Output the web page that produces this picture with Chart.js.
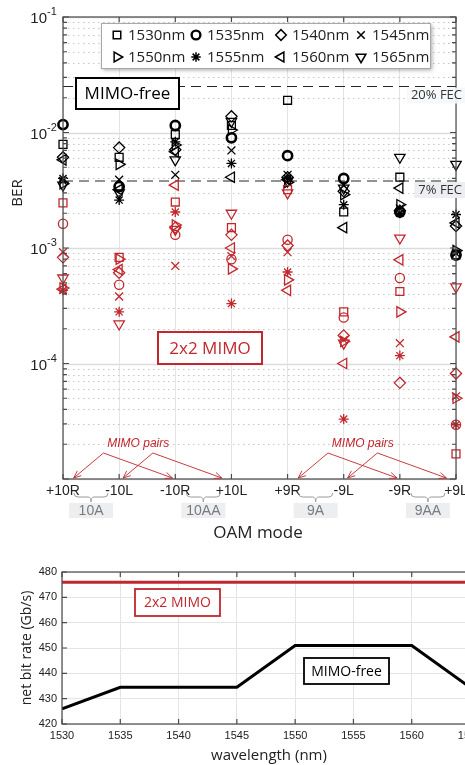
<!DOCTYPE html>
<html>
<head>
<meta charset="utf-8">
<script src="https://cdn.jsdelivr.net/npm/chart.js@4.4.1/dist/chart.umd.min.js"></script>
<style>
  html, body { margin: 0; padding: 0; background: #fff; overflow: hidden; width: 465px; height: 765px; }
  #berChart { position: absolute; left: 0; top: 0; }
  #rateChart { position: absolute; left: 0; top: 545px; }
</style>
</head>
<body>
<canvas id="berChart" width="480" height="545"></canvas>
<canvas id="rateChart" width="490" height="220"></canvas>
<script>
Chart.defaults.font.family = '"Liberation Sans", Arial, sans-serif';
Chart.defaults.color = '#222';

const RED = '#c1272d';
const SOFT = '"Open Sans", "Noto Sans", sans-serif';

// --- BER per OAM mode ---
const categories = ['+10R', '-10L', '-10R', '+10L', '+9R', '-9L', '-9R', '+9L'];
const wavelengths = [1530, 1535, 1540, 1545, 1550, 1555, 1560, 1565];

// MIMO-free (black)
const free1530 = [7.9e-3, 6.1e-3, 9.6e-3, 1.15e-2, 1.9e-2, 2.05e-3, 4.1e-3, 8.7e-4];
const free1535 = [1.17e-2, 3.4e-3, 1.15e-2, 9.0e-3, 6.3e-3, 4.0e-3, 2.05e-3, 8.7e-4];
const free1540 = [6.1e-3, 7.4e-3, 7.1e-3, 1.38e-2, 4.1e-3, 3.1e-3, 2.1e-3, 1.55e-3];
const free1545 = [3.8e-3, 3.9e-3, 4.3e-3, 7.0e-3, 4.3e-3, 3.5e-3, 2.2e-3, 9.0e-4];
const free1550 = [3.6e-3, 5.3e-3, 7.8e-3, 1.05e-2, 3.7e-3, 2.9e-3, 2.37e-3, 9.5e-4];
const free1555 = [4.0e-3, 2.6e-3, 8.3e-3, 5.4e-3, 4.0e-3, 2.37e-3, 2.0e-3, 1.95e-3];
const free1560 = [5.8e-3, 3.2e-3, 6.8e-3, 4.1e-3, 3.9e-3, 1.5e-3, 3.3e-3, 1.65e-3];
const free1565 = [3.5e-3, 3.0e-3, 5.8e-3, 1.25e-2, 3.8e-3, 3.3e-3, 6.1e-3, 5.3e-3];

// 2x2 MIMO (red)
const mimo1530 = [2.46e-3, 8.3e-4, 2.5e-3, 1.5e-3, 3.2e-3, 2.8e-4, 4.2e-4, 1.65e-5];
const mimo1535 = [1.62e-3, 4.8e-4, 1.3e-3, 8.0e-4, 1.18e-3, 2.5e-4, 5.5e-4, 2.95e-5];
const mimo1540 = [8.3e-4, 6.1e-4, 1.5e-3, 1.3e-3, 1.05e-3, 1.75e-4, 6.8e-5, 8.2e-5];
const mimo1545 = [9.2e-4, 3.8e-4, 7.0e-4, 8.5e-4, 9.2e-4, 1.6e-4, 1.5e-4, 5.2e-5];
const mimo1550 = [4.5e-4, 8.0e-4, 1.58e-3, 6.6e-4, 5.3e-4, 1.55e-4, 2.8e-4, 5.0e-5];
const mimo1555 = [4.3e-4, 2.8e-4, 2.05e-3, 3.3e-4, 6.2e-4, 3.3e-5, 1.17e-4, 2.95e-5];
const mimo1560 = [4.4e-4, 6.5e-4, 3.5e-3, 1.0e-3, 4.3e-4, 1.0e-4, 7.9e-4, 1.7e-4];
const mimo1565 = [5.5e-4, 2.2e-4, 1.45e-3, 2.0e-3, 3.0e-3, 1.5e-4, 1.22e-3, 4.6e-4];

const freeBER = [free1530, free1535, free1540, free1545, free1550, free1555, free1560, free1565];
const mimoBER = [mimo1530, mimo1535, mimo1540, mimo1545, mimo1550, mimo1555, mimo1560, mimo1565];

const fecLimits = [2.5e-2, 3.8e-3];
const fecNames = ['20% FEC', '7% FEC'];
const berDecades = [-5, -4, -3, -2, -1];
const berLabelled = [-4, -3, -2, -1];
const pairGroups = ['10A', '10AA', '9A', '9AA'];

// --- net bit rate ---
const rateWl = [1530, 1535, 1540, 1545, 1550, 1555, 1560, 1565];
const rateMimo = [476, 476, 476, 476, 476, 476, 476, 476];
const rateFree = [426, 434.5, 434.5, 434.5, 451, 451, 451, 434.5];

// marker look per wavelength
const markers = [
  { style: 'rect', rot: 0, r: 5.6 },
  { style: 'circle', rot: 0, r: 4.6 },
  { style: 'rectRot', rot: 0, r: 5.6 },
  { style: 'crossRot', rot: 0, r: 5.6 },
  { style: 'triangle', rot: 90, r: 6 },
  { style: 'star', rot: 0, r: 5 },
  { style: 'triangle', rot: -90, r: 6 },
  { style: 'triangle', rot: 180, r: 6 }
];

const berSets = [];
wavelengths.forEach((wl, k) => {
  const m = markers[k];
  [[freeBER[k], '#000', k === 1 ? 2.6 : 1.3], [mimoBER[k], RED, 1.3]].forEach(([vals, col, lw]) => {
    berSets.push({
      label: wl + 'nm',
      data: vals.map((v, i) => ({ x: i, y: v })),
      showLine: false,
      clip: false,
      pointStyle: m.style,
      rotation: m.rot,
      pointRadius: m.r,
      pointBorderWidth: lw,
      pointBorderColor: col,
      pointBackgroundColor: 'rgba(0,0,0,0)'
    });
  });
});

function textBox(ctx, x, y, w, h, color, lw, text, font) {
  ctx.save();
  ctx.fillStyle = '#fff';
  ctx.fillRect(x, y, w, h);
  ctx.lineWidth = lw;
  ctx.strokeStyle = color;
  ctx.strokeRect(x, y, w, h);
  ctx.fillStyle = color;
  ctx.font = font;
  ctx.textAlign = 'center';
  ctx.textBaseline = 'middle';
  ctx.fillText(text, x + w / 2, y + h / 2 + 1);
  ctx.restore();
}

// box round the plot + inward ticks (matlab look)
function drawFrame(chart, yLen) {
  const { ctx, chartArea: ca, scales: { x, y } } = chart;
  ctx.save();
  ctx.strokeStyle = '#4a4a4a';
  ctx.lineWidth = 1.2;
  ctx.beginPath();
  x.ticks.forEach(t => {
    const px = x.getPixelForValue(t.value);
    ctx.moveTo(px, ca.bottom); ctx.lineTo(px, ca.bottom - 5);
    ctx.moveTo(px, ca.top); ctx.lineTo(px, ca.top + 5);
  });
  y.ticks.forEach(t => {
    const py = y.getPixelForValue(t.value);
    const l = yLen(t);
    ctx.moveTo(ca.left, py); ctx.lineTo(ca.left + l, py);
    ctx.moveTo(ca.right, py); ctx.lineTo(ca.right - l, py);
  });
  ctx.stroke();
  ctx.strokeRect(ca.left, ca.top, ca.width, ca.height);
  ctx.restore();
}

function arrow(ctx, x0, y0, x1, y1) {
  const a = Math.atan2(y1 - y0, x1 - x0);
  ctx.moveTo(x0, y0); ctx.lineTo(x1, y1);
  ctx.moveTo(x1 - 8 * Math.cos(a - 0.4), y1 - 8 * Math.sin(a - 0.4));
  ctx.lineTo(x1, y1);
  ctx.lineTo(x1 - 8 * Math.cos(a + 0.4), y1 - 8 * Math.sin(a + 0.4));
}

const legendCols = [16, 95, 180, 260];

const berDeco = {
  id: 'berDeco',
  beforeDatasetsDraw(chart) {
    const { ctx, chartArea: ca, scales: { y } } = chart;
    ctx.save();
    y.ticks.forEach(t => {
      const py = Math.round(y.getPixelForValue(t.value)) + 0.5;
      ctx.beginPath();
      if (t.major) { ctx.setLineDash([]); ctx.strokeStyle = '#dcdcdc'; ctx.lineWidth = 1.5; }
      else { ctx.setLineDash([1.5, 3.5]); ctx.strokeStyle = '#c6c6c6'; ctx.lineWidth = 1; }
      ctx.moveTo(ca.left, py); ctx.lineTo(ca.right, py);
      ctx.stroke();
    });
    ctx.setLineDash([10, 6]);
    ctx.strokeStyle = '#262626';
    ctx.lineWidth = 1.1;
    fecLimits.forEach(v => {
      const py = y.getPixelForValue(v);
      ctx.beginPath(); ctx.moveTo(ca.left, py); ctx.lineTo(ca.right, py); ctx.stroke();
    });
    ctx.restore();
  },
  afterDatasetsDraw(chart) {
    const { ctx, chartArea: ca, scales: { x, y } } = chart;
    drawFrame(chart, t => (t.major ? 6 : 4));

    // FEC labels
    ctx.save();
    ctx.font = '13px ' + SOFT;
    ctx.textAlign = 'right';
    ctx.textBaseline = 'middle';
    fecLimits.forEach((v, i) => {
      const py = y.getPixelForValue(v) + 9;
      const w = ctx.measureText(fecNames[i]).width;
      ctx.fillStyle = i === 1 ? '#eceef1' : 'rgba(246,247,248,0.9)';
      ctx.fillRect(ca.right + 6 - w - 4, py - 8, w + 8, 16);
      ctx.fillStyle = '#333';
      ctx.fillText(fecNames[i], ca.right + 6, py);
    });
    ctx.restore();

    textBox(ctx, ca.left + 13, ca.top + 61, 103, 31, '#000', 2, 'MIMO-free', '17px ' + SOFT);
    textBox(ctx, ca.left + 95, ca.top + 315, 104, 32, RED, 2, '2x2 MIMO', '17px ' + SOFT);

    // MIMO pairs arrows
    ctx.save();
    ctx.strokeStyle = RED;
    ctx.fillStyle = RED;
    ctx.lineWidth = 0.9;
    ctx.font = 'italic 12px "Liberation Sans", Arial, sans-serif';
    ctx.textAlign = 'center';
    ctx.textBaseline = 'middle';
    [0, 4].forEach(b => {
      const top = ca.bottom - 26, tip = ca.bottom - 1;
      ctx.beginPath();
      arrow(ctx, x.getPixelForValue(b + 0.72), top, x.getPixelForValue(b + 0.19), tip);
      arrow(ctx, x.getPixelForValue(b + 0.72), top, x.getPixelForValue(b + 1.95), tip);
      arrow(ctx, x.getPixelForValue(b + 1.6), top, x.getPixelForValue(b + 1.07), tip);
      arrow(ctx, x.getPixelForValue(b + 1.6), top, x.getPixelForValue(b + 2.83), tip);
      ctx.stroke();
      ctx.fillText('MIMO pairs', x.getPixelForValue(b + 1.34), ca.bottom - 35);
    });
    ctx.restore();

    // legend
    const lx = ca.left + 38, ly = ca.top + 6, lw = 329, lh = 45;
    ctx.save();
    ctx.shadowColor = 'rgba(0,0,0,0.35)';
    ctx.shadowBlur = 4;
    ctx.shadowOffsetX = 2;
    ctx.shadowOffsetY = 2;
    ctx.fillStyle = '#fff';
    ctx.fillRect(lx, ly, lw, lh);
    ctx.restore();
    ctx.save();
    ctx.strokeStyle = '#a8a8a8';
    ctx.lineWidth = 1;
    ctx.strokeRect(lx + 0.5, ly + 0.5, lw, lh);
    ctx.font = '15px ' + SOFT;
    ctx.textBaseline = 'middle';
    ctx.textAlign = 'left';
    wavelengths.forEach((wl, k) => {
      const m = markers[k];
      const mx = lx + legendCols[k % 4], my = ly + (k < 4 ? 12 : 34);
      ctx.strokeStyle = '#000';
      ctx.fillStyle = '#fff';
      ctx.lineWidth = k === 1 ? 2.4 : 1.5;
      Chart.helpers.drawPoint(ctx, { pointStyle: m.style, rotation: m.rot, radius: m.r * 0.95, borderWidth: ctx.lineWidth }, mx, my);
      ctx.fillStyle = '#222';
      ctx.fillText(wl + 'nm', mx + 11, my + 1);
    });
    ctx.restore();
  },
  afterDraw(chart) {
    const { ctx, chartArea: ca, scales: { x, y } } = chart;
    ctx.save();
    ctx.fillStyle = '#222';
    ctx.textBaseline = 'middle';
    berLabelled.forEach(e => {
      const py = y.getPixelForValue(Math.pow(10, e));
      ctx.font = '15px "Liberation Sans", Arial, sans-serif';
      ctx.textAlign = 'right';
      ctx.fillText('10', ca.left - 16, py + 2);
      ctx.font = '11px "Liberation Sans", Arial, sans-serif';
      ctx.textAlign = 'left';
      ctx.fillText(String(e), ca.left - 16, py - 5);
    });

    // pair braces + group names
    pairGroups.forEach((g, i) => {
      const mid = (x.getPixelForValue(2 * i) + x.getPixelForValue(2 * i + 1)) / 2;
      const y0 = ca.bottom + 14;
      ctx.strokeStyle = '#9a9a9a';
      ctx.lineWidth = 1;
      ctx.beginPath();
      ctx.moveTo(mid - 17, y0);
      ctx.quadraticCurveTo(mid - 17, y0 + 4, mid - 13, y0 + 4);
      ctx.lineTo(mid - 3, y0 + 4);
      ctx.quadraticCurveTo(mid, y0 + 4, mid, y0 + 9);
      ctx.quadraticCurveTo(mid, y0 + 4, mid + 3, y0 + 4);
      ctx.lineTo(mid + 13, y0 + 4);
      ctx.quadraticCurveTo(mid + 17, y0 + 4, mid + 17, y0);
      ctx.stroke();
      ctx.fillStyle = '#eceef0';
      ctx.fillRect(mid - 22, ca.bottom + 24, 44, 15);
      ctx.fillStyle = '#7a7a7a';
      ctx.font = '14px "Liberation Sans", Arial, sans-serif';
      ctx.textAlign = 'center';
      ctx.fillText(g, mid, ca.bottom + 32);
    });

    ctx.fillStyle = '#222';
    ctx.font = '17px ' + SOFT;
    ctx.textAlign = 'center';
    ctx.fillText('OAM mode', 258, ca.bottom + 54);
    ctx.translate(18, 193);
    ctx.rotate(-Math.PI / 2);
    ctx.font = '15px ' + SOFT;
    ctx.fillText('BER', 0, 0);
    ctx.restore();
  }
};

new Chart(document.getElementById('berChart'), {
  type: 'scatter',
  data: { datasets: berSets },
  options: {
    responsive: false,
    animation: false,
    layout: { padding: { top: 17, right: 24, left: 0, bottom: 0 } },
    plugins: { legend: { display: false }, tooltip: { enabled: false } },
    scales: {
      x: {
        type: 'linear', min: 0, max: 7,
        afterFit: s => { s.height = 66; },
        ticks: {
          stepSize: 1, autoSkip: false, maxRotation: 0, padding: 4,
          color: '#222', font: { size: 14 },
          callback: v => categories[v] ?? ''
        },
        grid: { color: '#e4e4e4', lineWidth: 1, drawTicks: false },
        border: { display: false }
      },
      y: {
        type: 'logarithmic', min: 1e-5, max: 1e-1,
        afterBuildTicks: s => {
          const t = [];
          berDecades.forEach(e => {
            for (let m = 1; m <= 9; m++) {
              if (e === -1 && m > 1) break;
              t.push({ value: m * Math.pow(10, e), major: m === 1 });
            }
          });
          s.ticks = t;
        },
        afterFit: s => { s.width = 63; },
        ticks: { display: false },
        grid: { display: false },
        border: { display: false }
      }
    }
  },
  plugins: [berDeco]
});

// --- bottom chart ---
const rateDeco = {
  id: 'rateDeco',
  afterDatasetsDraw(chart) {
    const { ctx, chartArea: ca } = chart;
    drawFrame(chart, () => 5);
    textBox(ctx, ca.left + 73, ca.top + 17, 85, 27, RED, 1.8, '2x2 MIMO', '14px ' + SOFT);
    textBox(ctx, ca.left + 242, ca.top + 86, 85, 26, '#000', 1.8, 'MIMO-free', '14px ' + SOFT);
  },
  afterDraw(chart) {
    const { ctx, chartArea: ca } = chart;
    ctx.save();
    ctx.fillStyle = '#222';
    ctx.textAlign = 'center';
    ctx.textBaseline = 'middle';
    ctx.font = '15px ' + SOFT;
    ctx.fillText('wavelength (nm)', 269, ca.bottom + 32);
    ctx.translate(27, (ca.top + ca.bottom) / 2);
    ctx.rotate(-Math.PI / 2);
    ctx.font = '14px ' + SOFT;
    ctx.fillText('net bit rate (Gb/s)', 0, 0);
    ctx.restore();
  }
};

new Chart(document.getElementById('rateChart'), {
  type: 'line',
  data: {
    datasets: [
      { data: rateWl.map((w, i) => ({ x: w, y: rateMimo[i] })), borderColor: RED, borderWidth: 3, pointRadius: 0 },
      { data: rateWl.map((w, i) => ({ x: w, y: rateFree[i] })), borderColor: '#000', borderWidth: 3, pointRadius: 0 }
    ]
  },
  options: {
    responsive: false,
    animation: false,
    layout: { padding: { top: 27, right: 20, left: 0, bottom: 0 } },
    plugins: { legend: { display: false }, tooltip: { enabled: false } },
    scales: {
      x: {
        type: 'linear', min: 1530, max: 1565,
        afterFit: s => { s.height = 41; },
        ticks: { stepSize: 5, padding: 5, color: '#222', font: { size: 11 }, callback: v => String(v) },
        grid: { color: '#e4e4e4', drawTicks: false },
        border: { display: false }
      },
      y: {
        min: 420, max: 480,
        afterFit: s => { s.width = 62; },
        ticks: { stepSize: 10, padding: 5, color: '#222', font: { size: 11 } },
        grid: { color: '#e4e4e4', drawTicks: false },
        border: { display: false }
      }
    }
  },
  plugins: [rateDeco]
});
</script>
</body>
</html>
